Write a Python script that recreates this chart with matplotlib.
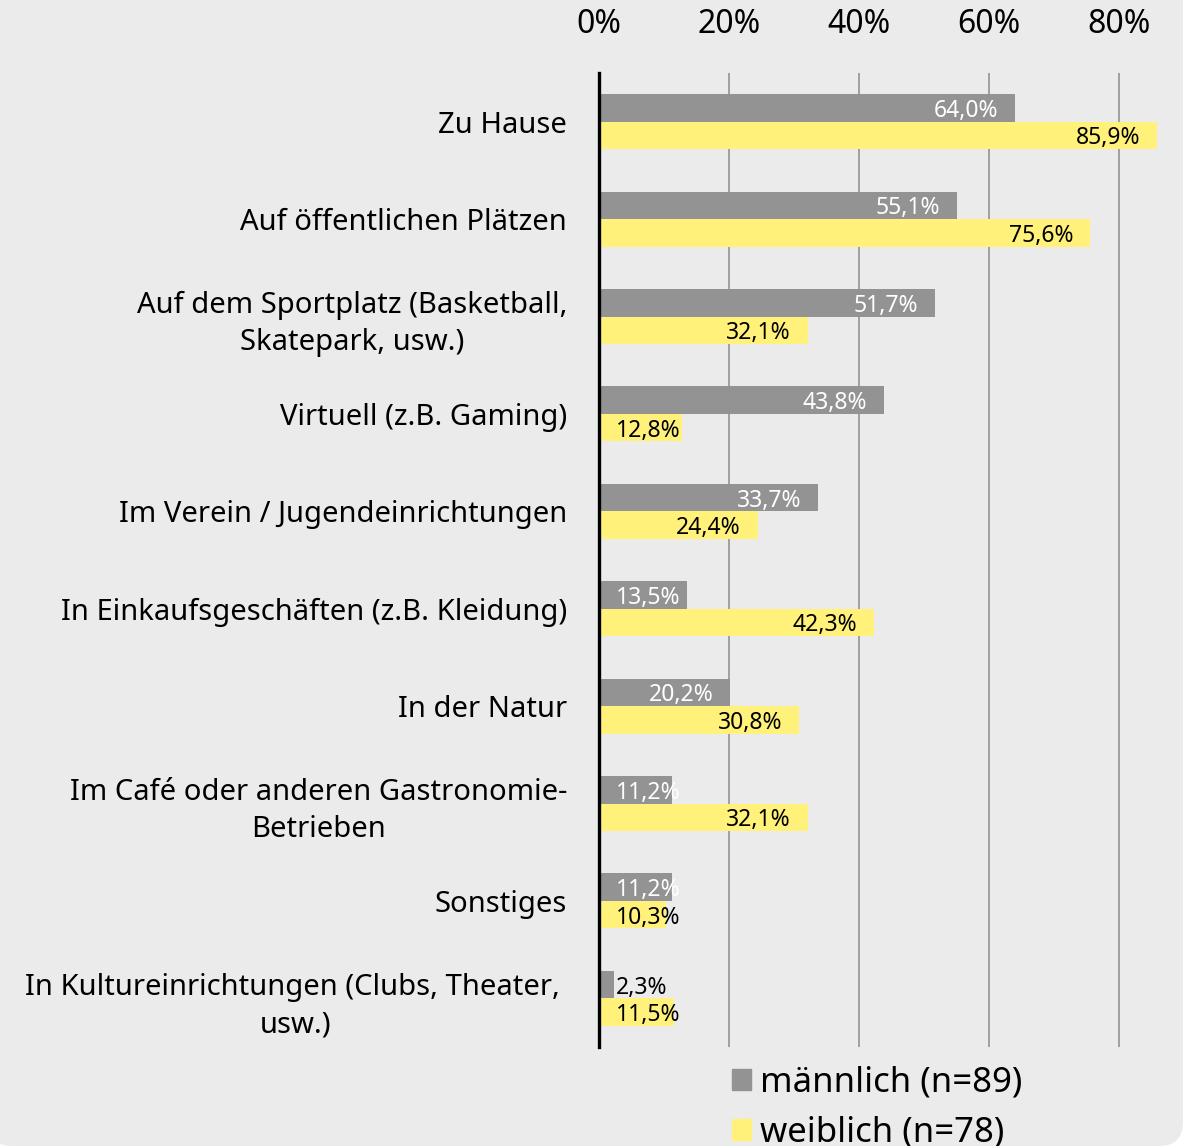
import matplotlib
matplotlib.use("Agg")
import matplotlib.pyplot as plt
import matplotlib.patches as mpatches
import matplotlib.transforms as mtransforms
import numpy as np

plt.rcParams['font.family'] = ['Noto Sans', 'DejaVu Sans']

categories = [
    'Zu Hause',
    'Auf öffentlichen Plätzen',
    'Auf dem Sportplatz (Basketball,\nSkatepark, usw.)',
    'Virtuell (z.B. Gaming)',
    'Im Verein / Jugendeinrichtungen',
    'In Einkaufsgeschäften (z.B. Kleidung)',
    'In der Natur',
    'Im Café oder anderen Gastronomie-\nBetrieben',
    'Sonstiges',
    'In Kultureinrichtungen (Clubs, Theater, \nusw.)',
]
maennlich = [64.0, 55.1, 51.7, 43.8, 33.7, 13.5, 20.2, 11.2, 11.2, 2.3]
weiblich = [85.9, 75.6, 32.1, 12.8, 24.4, 42.3, 30.8, 32.1, 10.3, 11.5]
ticks = [0, 20, 40, 60, 80]
legend_labels = ['männlich (n=89)', 'weiblich (n=78)']

GRAY = '#939393'
YELLOW = '#fff17a'
BG = '#ebebeb'

W, H = 1184, 1146
fig = plt.figure(figsize=(W / 100, H / 100), dpi=100)
fig.patch.set_facecolor('white')

# panel background with rounded bottom corners
panel = mpatches.FancyBboxPatch((-12, 0), W + 11, H + 100,
                                boxstyle='round,pad=0,rounding_size=24',
                                transform=mtransforms.IdentityTransform(),
                                facecolor=BG, edgecolor='none', zorder=-5)
fig.patches.append(panel)

ax = fig.add_axes([599 / W, 1 - 1047 / H, (W - 599) / W, (1047 - 73) / H])
ax.set_facecolor('none')
ax.set_zorder(2)

y = np.arange(len(categories))
h = 0.283
ax.barh(y - h / 2, maennlich, height=h, color=GRAY, zorder=2)
ax.barh(y + h / 2, weiblich, height=h, color=YELLOW, zorder=2)

ax.set_xlim(0, 90)
ax.set_ylim(len(categories) - 0.5, -0.5)
ax.set_xticks(ticks)
ax.set_xticklabels([f'{t}%' for t in ticks], fontsize=23)
ax.xaxis.tick_top()
ax.tick_params(axis='x', length=0, pad=23)
ax.set_yticks(y)
ax.set_yticklabels(categories, fontsize=21)
ax.tick_params(axis='y', length=0, pad=23)
for t in ax.get_yticklabels():
    t.set_multialignment('center')
    t.set_linespacing(1.38)

ax.grid(axis='x', color='#9a9a9a', linewidth=1.3, zorder=1)
ax.grid(axis='y', visible=False)
for s in ['top', 'right', 'bottom']:
    ax.spines[s].set_visible(False)
ax.spines['left'].set_linewidth(2.4)
ax.spines['left'].set_color('black')
ax.spines['left'].set_zorder(4)

# value labels: inside end, but never closer than 17px to the axis
renderer = fig.canvas.get_renderer()
x0_px = ax.transData.transform((0, 0))[0]
PAD = 17
left_tr = mtransforms.offset_copy(ax.transData, fig, x=-PAD, y=-3, units='dots')
right_tr = mtransforms.offset_copy(ax.transData, fig, x=PAD, y=-3, units='dots')


def fmt(v):
    return f'{v:.1f}%'.replace('.', ',')


def add_label(v, yy, inside_color):
    t = ax.text(v, yy, fmt(v), ha='right', va='center', fontsize=16.5,
                color=inside_color, transform=left_tr, zorder=3)
    ext = t.get_window_extent(renderer)
    if ext.x0 < x0_px + PAD:
        t.set_transform(right_tr)
        t.set_position((0, yy))
        t.set_ha('left')
        bar_end = ax.transData.transform((v, 0))[0]
        if x0_px + PAD >= bar_end:
            t.set_color('black')


for i in range(len(categories)):
    add_label(maennlich[i], y[i] - h / 2, 'white')
    add_label(weiblich[i], y[i] + h / 2, 'black')

handles = [mpatches.Patch(color=GRAY), mpatches.Patch(color=YELLOW)]
fig.legend(handles, legend_labels, loc='upper left',
           bbox_to_anchor=(718 / W, 1 - 1052 / H), frameon=False,
           fontsize=25, handlelength=0.56, handleheight=0.56,
           handletextpad=0.25, labelspacing=0.45, borderaxespad=0)

fig.savefig('out.png', dpi=100, facecolor=fig.get_facecolor())
